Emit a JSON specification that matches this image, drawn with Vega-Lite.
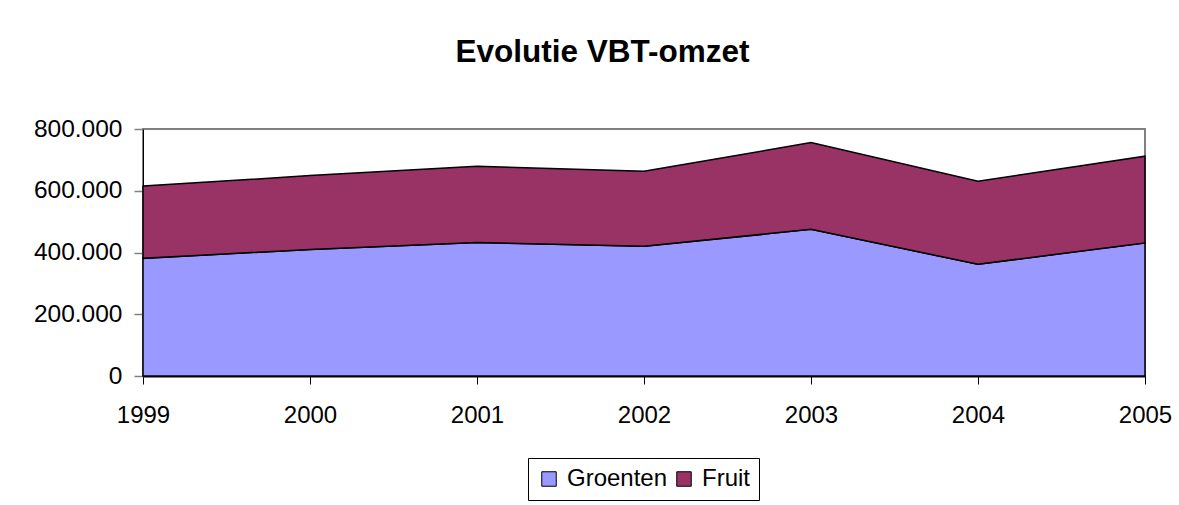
{
  "$schema": "https://vega.github.io/schema/vega-lite/v6.json",
  "width": 1002,
  "height": 247,
  "autosize": {"type": "pad"},
  "padding": {"left": 33, "top": 36, "right": 10, "bottom": 5},
  "background": "white",
  "title": {
    "text": "Evolutie VBT-omzet",
    "font": "Liberation Sans",
    "fontSize": 31.5,
    "fontWeight": "bold",
    "color": "black",
    "anchor": "middle",
    "frame": "bounds",
    "offset": 48
  },
  "data": {
    "values": [
      {"year": "1999", "series": "Groenten", "value": 381000},
      {"year": "2000", "series": "Groenten", "value": 410000},
      {"year": "2001", "series": "Groenten", "value": 432000},
      {"year": "2002", "series": "Groenten", "value": 420000},
      {"year": "2003", "series": "Groenten", "value": 475000},
      {"year": "2004", "series": "Groenten", "value": 362000},
      {"year": "2005", "series": "Groenten", "value": 431000},
      {"year": "1999", "series": "Fruit", "value": 234000},
      {"year": "2000", "series": "Fruit", "value": 239000},
      {"year": "2001", "series": "Fruit", "value": 247000},
      {"year": "2002", "series": "Fruit", "value": 243000},
      {"year": "2003", "series": "Fruit", "value": 281000},
      {"year": "2004", "series": "Fruit", "value": 269000},
      {"year": "2005", "series": "Fruit", "value": 281000}
    ]
  },
  "mark": {"type": "area", "stroke": "black", "strokeWidth": 1.5, "opacity": 1},
  "encoding": {
    "x": {
      "field": "year",
      "type": "ordinal",
      "scale": {"type": "point", "padding": 0},
      "axis": {
        "title": null,
        "labelAngle": 0,
        "labelFont": "Liberation Sans",
        "labelFontSize": 24,
        "labelColor": "black",
        "labelPadding": 19,
        "tickColor": "black",
        "tickSize": 8,
        "tickWidth": 1,
        "domainColor": "black",
        "domainWidth": 2,
        "grid": false
      }
    },
    "y": {
      "field": "value",
      "type": "quantitative",
      "stack": "zero",
      "scale": {"domain": [0, 800000], "nice": false},
      "axis": {
        "title": null,
        "values": [0, 200000, 400000, 600000, 800000],
        "labelExpr": "datum.value == 0 ? '0' : format(datum.value / 1000, 'd') + '.000'",
        "labelFont": "Liberation Sans",
        "labelFontSize": 24.5,
        "labelColor": "black",
        "labelPadding": 12,
        "tickColor": "#808080",
        "tickSize": 9,
        "tickWidth": 1.5,
        "domainColor": "black",
        "domainWidth": 1,
        "grid": false
      }
    },
    "color": {
      "field": "series",
      "type": "nominal",
      "scale": {"domain": ["Groenten", "Fruit"], "range": ["#9999FF", "#993366"]},
      "legend": {
        "title": null,
        "orient": "none",
        "legendX": 385,
        "legendY": 329,
        "direction": "horizontal",
        "padding": 9,
        "strokeColor": "black",
        "fillColor": "white",
        "symbolType": "square",
        "symbolSize": 210,
        "symbolStrokeColor": "black",
        "symbolStrokeWidth": 1,
        "symbolOpacity": 1,
        "labelFont": "Liberation Sans",
        "labelFontSize": 24,
        "labelColor": "black",
        "labelOffset": 6,
        "columnPadding": 4
      }
    },
    "order": {"field": "series", "sort": "descending"}
  },
  "config": {
    "view": {"stroke": "#808080", "strokeWidth": 2}
  }
}
